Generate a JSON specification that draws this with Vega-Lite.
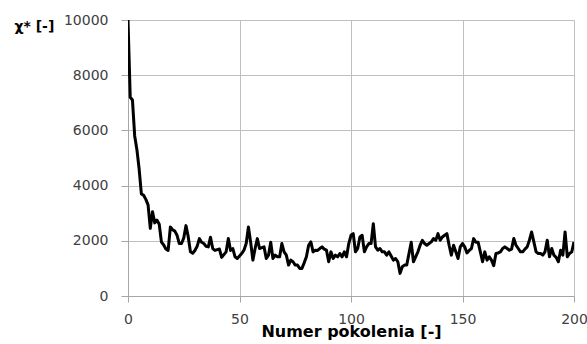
{
  "$schema": "https://vega.github.io/schema/vega-lite/v6.json",
  "autosize": "none",
  "width": 446,
  "height": 276,
  "padding": {"left": 128, "top": 20, "right": 13, "bottom": 48},
  "background": "white",
  "config": {
    "view": {"stroke": null},
    "font": "DejaVu Sans"
  },
  "data": {
    "values": [
      {"gen": 0, "chi": 10000}, {"gen": 1, "chi": 7200}, {"gen": 2, "chi": 7100}, {"gen": 3, "chi": 5800}, {"gen": 4, "chi": 5300},
      {"gen": 5, "chi": 4600}, {"gen": 6, "chi": 3700}, {"gen": 7, "chi": 3650}, {"gen": 8, "chi": 3500}, {"gen": 9, "chi": 3300},
      {"gen": 10, "chi": 2450}, {"gen": 11, "chi": 3050}, {"gen": 12, "chi": 2650}, {"gen": 13, "chi": 2750}, {"gen": 14, "chi": 2600},
      {"gen": 15, "chi": 1950}, {"gen": 16, "chi": 1850}, {"gen": 17, "chi": 1700}, {"gen": 18, "chi": 1650}, {"gen": 19, "chi": 2500},
      {"gen": 20, "chi": 2400}, {"gen": 21, "chi": 2350}, {"gen": 22, "chi": 2200}, {"gen": 23, "chi": 1900}, {"gen": 24, "chi": 1900},
      {"gen": 25, "chi": 2100}, {"gen": 26, "chi": 2550}, {"gen": 27, "chi": 2150}, {"gen": 28, "chi": 1600}, {"gen": 29, "chi": 1550},
      {"gen": 30, "chi": 1650}, {"gen": 31, "chi": 1800}, {"gen": 32, "chi": 2080}, {"gen": 33, "chi": 1950}, {"gen": 34, "chi": 1900},
      {"gen": 35, "chi": 1800}, {"gen": 36, "chi": 1780}, {"gen": 37, "chi": 2130}, {"gen": 38, "chi": 1720}, {"gen": 39, "chi": 1650},
      {"gen": 40, "chi": 1680}, {"gen": 41, "chi": 1700}, {"gen": 42, "chi": 1400}, {"gen": 43, "chi": 1500}, {"gen": 44, "chi": 1600},
      {"gen": 45, "chi": 2080}, {"gen": 46, "chi": 1650}, {"gen": 47, "chi": 1720}, {"gen": 48, "chi": 1420}, {"gen": 49, "chi": 1360},
      {"gen": 50, "chi": 1450}, {"gen": 51, "chi": 1540}, {"gen": 52, "chi": 1660}, {"gen": 53, "chi": 1900}, {"gen": 54, "chi": 2500},
      {"gen": 55, "chi": 1950}, {"gen": 56, "chi": 1300}, {"gen": 57, "chi": 1720}, {"gen": 58, "chi": 2080}, {"gen": 59, "chi": 1720},
      {"gen": 60, "chi": 1750}, {"gen": 61, "chi": 1780}, {"gen": 62, "chi": 1360}, {"gen": 63, "chi": 1480}, {"gen": 64, "chi": 1950},
      {"gen": 65, "chi": 1360}, {"gen": 66, "chi": 1480}, {"gen": 67, "chi": 1420}, {"gen": 68, "chi": 1420}, {"gen": 69, "chi": 1900},
      {"gen": 70, "chi": 1600}, {"gen": 71, "chi": 1480}, {"gen": 72, "chi": 1120}, {"gen": 73, "chi": 1300}, {"gen": 74, "chi": 1240},
      {"gen": 75, "chi": 1120}, {"gen": 76, "chi": 1120}, {"gen": 77, "chi": 1000}, {"gen": 78, "chi": 1000}, {"gen": 79, "chi": 1200},
      {"gen": 80, "chi": 1420}, {"gen": 81, "chi": 1840}, {"gen": 82, "chi": 1960}, {"gen": 83, "chi": 1600}, {"gen": 84, "chi": 1660},
      {"gen": 85, "chi": 1650}, {"gen": 86, "chi": 1720}, {"gen": 87, "chi": 1780}, {"gen": 88, "chi": 1700}, {"gen": 89, "chi": 1660},
      {"gen": 90, "chi": 1240}, {"gen": 91, "chi": 1600}, {"gen": 92, "chi": 1360}, {"gen": 93, "chi": 1480}, {"gen": 94, "chi": 1420},
      {"gen": 95, "chi": 1540}, {"gen": 96, "chi": 1420}, {"gen": 97, "chi": 1600}, {"gen": 98, "chi": 1420}, {"gen": 99, "chi": 1900},
      {"gen": 100, "chi": 2200}, {"gen": 101, "chi": 2260}, {"gen": 102, "chi": 1600}, {"gen": 103, "chi": 1720}, {"gen": 104, "chi": 2140},
      {"gen": 105, "chi": 2200}, {"gen": 106, "chi": 1600}, {"gen": 107, "chi": 1780}, {"gen": 108, "chi": 1900}, {"gen": 109, "chi": 1900},
      {"gen": 110, "chi": 2620}, {"gen": 111, "chi": 1780}, {"gen": 112, "chi": 1660}, {"gen": 113, "chi": 1720}, {"gen": 114, "chi": 1600},
      {"gen": 115, "chi": 1600}, {"gen": 116, "chi": 1480}, {"gen": 117, "chi": 1600}, {"gen": 118, "chi": 1450}, {"gen": 119, "chi": 1300},
      {"gen": 120, "chi": 1360}, {"gen": 121, "chi": 1240}, {"gen": 122, "chi": 820}, {"gen": 123, "chi": 1060}, {"gen": 124, "chi": 1120},
      {"gen": 125, "chi": 1120}, {"gen": 126, "chi": 1540}, {"gen": 127, "chi": 1950}, {"gen": 128, "chi": 1240}, {"gen": 129, "chi": 1420},
      {"gen": 130, "chi": 1600}, {"gen": 131, "chi": 1840}, {"gen": 132, "chi": 2020}, {"gen": 133, "chi": 1900}, {"gen": 134, "chi": 1840},
      {"gen": 135, "chi": 1900}, {"gen": 136, "chi": 1960}, {"gen": 137, "chi": 2080}, {"gen": 138, "chi": 2020}, {"gen": 139, "chi": 2260},
      {"gen": 140, "chi": 2020}, {"gen": 141, "chi": 2140}, {"gen": 142, "chi": 2200}, {"gen": 143, "chi": 2260}, {"gen": 144, "chi": 1840},
      {"gen": 145, "chi": 1480}, {"gen": 146, "chi": 1840}, {"gen": 147, "chi": 1600}, {"gen": 148, "chi": 1360}, {"gen": 149, "chi": 1780},
      {"gen": 150, "chi": 1900}, {"gen": 151, "chi": 1780}, {"gen": 152, "chi": 1560}, {"gen": 153, "chi": 1650}, {"gen": 154, "chi": 1720},
      {"gen": 155, "chi": 2080}, {"gen": 156, "chi": 1950}, {"gen": 157, "chi": 1950}, {"gen": 158, "chi": 1600}, {"gen": 159, "chi": 1240},
      {"gen": 160, "chi": 1600}, {"gen": 161, "chi": 1300}, {"gen": 162, "chi": 1420}, {"gen": 163, "chi": 1300}, {"gen": 164, "chi": 1100},
      {"gen": 165, "chi": 1540}, {"gen": 166, "chi": 1560}, {"gen": 167, "chi": 1600}, {"gen": 168, "chi": 1720}, {"gen": 169, "chi": 1780},
      {"gen": 170, "chi": 1720}, {"gen": 171, "chi": 1660}, {"gen": 172, "chi": 1700}, {"gen": 173, "chi": 2080}, {"gen": 174, "chi": 1840},
      {"gen": 175, "chi": 1720}, {"gen": 176, "chi": 1600}, {"gen": 177, "chi": 1600}, {"gen": 178, "chi": 1700}, {"gen": 179, "chi": 1780},
      {"gen": 180, "chi": 2020}, {"gen": 181, "chi": 2320}, {"gen": 182, "chi": 1960}, {"gen": 183, "chi": 1600}, {"gen": 184, "chi": 1540},
      {"gen": 185, "chi": 1540}, {"gen": 186, "chi": 1480}, {"gen": 187, "chi": 1600}, {"gen": 188, "chi": 2020}, {"gen": 189, "chi": 1420},
      {"gen": 190, "chi": 1720}, {"gen": 191, "chi": 1480}, {"gen": 192, "chi": 1400}, {"gen": 193, "chi": 1240}, {"gen": 194, "chi": 1660},
      {"gen": 195, "chi": 1480}, {"gen": 196, "chi": 2320}, {"gen": 197, "chi": 1420}, {"gen": 198, "chi": 1540}, {"gen": 199, "chi": 1600},
      {"gen": 200, "chi": 1960}
    ]
  },
  "mark": {"type": "line", "color": "black", "strokeWidth": 3, "strokeJoin": "round", "clip": true},
  "encoding": {
    "x": {
      "field": "gen", "type": "quantitative",
      "scale": {"domain": [0, 200], "nice": false},
      "axis": {
        "values": [0, 50, 100, 150, 200],
        "title": "Numer pokolenia [-]",
        "titleFont": "DejaVu Sans", "titleFontSize": 16, "titleFontWeight": "bold", "titleColor": "black",
        "titleBaseline": "alphabetic", "titleY": 40,
        "labelFontSize": 14, "labelColor": "#404040", "labelPadding": 10, "labelFlush": false,
        "tickSize": 6, "tickColor": "#a6a6a6", "domainColor": "#a6a6a6",
        "grid": true, "gridColor": "#bfbfbf"
      }
    },
    "y": {
      "field": "chi", "type": "quantitative",
      "scale": {"domain": [0, 10000], "nice": false},
      "axis": {
        "values": [0, 2000, 4000, 6000, 8000, 10000],
        "format": "d",
        "title": "χ* [-]",
        "titleAngle": 0, "titleAlign": "left", "titleBaseline": "alphabetic",
        "titleX": -114, "titleY": 10,
        "titleFont": "DejaVu Sans", "titleFontSize": 14, "titleFontWeight": "bold", "titleColor": "black",
        "labelFontSize": 14, "labelColor": "#404040", "labelPadding": 13,
        "tickSize": 7, "tickColor": "#a6a6a6", "domainColor": "#a6a6a6",
        "grid": true, "gridColor": "#bfbfbf"
      }
    }
  }
}
